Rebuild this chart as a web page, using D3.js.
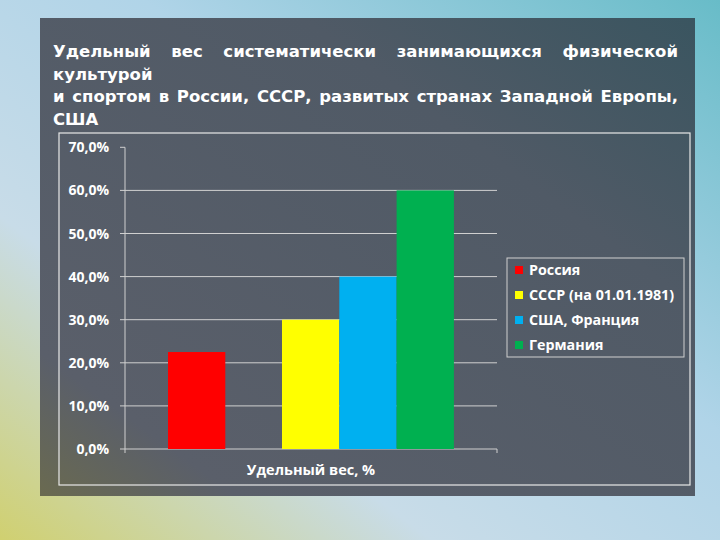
<!DOCTYPE html><html><head><meta charset="utf-8">
<script src="https://cdn.jsdelivr.net/npm/d3@7"></script>
<style>body{margin:0;}svg{display:block}</style></head><body>
<svg id="c" width="720" height="540"></svg>
<script>
const categories=["Россия","СССР (на 01.01.1981)","США, Франция","Германия"];
const values=[22.5,30,40,60];
const colors=["#ff0000","#ffff00","#00b0f0","#00b050"];
const yTicks=[0,10,20,30,40,50,60,70];
const titleLines=["Удельный вес систематически занимающихся физической","культурой","и спортом в России, СССР, развитых странах Западной Европы,","США"];
const xLabel="Удельный вес, %";

const svg=d3.select("#c");
const defs=svg.append("defs");
const bg=defs.append("linearGradient").attr("id","bg").attr("x1","0").attr("y1","1").attr("x2","1").attr("y2","0");
bg.append("stop").attr("offset","0").attr("stop-color","#d0d070");
bg.append("stop").attr("offset","0.3").attr("stop-color","#c8dce8");
bg.append("stop").attr("offset","0.6").attr("stop-color","#b0d4e8");
bg.append("stop").attr("offset","1").attr("stop-color","#68bcc8");
svg.append("rect").attr("width",720).attr("height",540).attr("fill","url(#bg)");
const pg=defs.append("linearGradient").attr("id","pg").attr("x1","0").attr("y1","1").attr("x2","1").attr("y2","0");
pg.append("stop").attr("offset","0").attr("stop-color","#6a6a50");
pg.append("stop").attr("offset","0.15").attr("stop-color","#5a5f6a");
pg.append("stop").attr("offset","0.7").attr("stop-color","#505a66");
pg.append("stop").attr("offset","1").attr("stop-color","#3a5560");
svg.append("rect").attr("x",40).attr("y",18).attr("width",655).attr("height",478).attr("fill","url(#pg)");

const tf="'DejaVu Sans',Verdana,sans-serif";
const L=53,R=678,fs=16.5;
function tt(s){return svg.append("text").attr("font-family",tf).attr("font-weight","bold").attr("font-size",fs).attr("fill","#fff").text(s);}
titleLines.forEach((t,i)=>{
  const yy=57+i*22.5;
  if(i===0||i===2){
    const words=t.split(" ");
    const ws=words.map(w=>{const e=tt(w);const l=e.node().getComputedTextLength();e.remove();return l;});
    const gap=(R-L-d3.sum(ws))/(words.length-1);
    let cx=L;
    words.forEach((w,k)=>{tt(w).attr("x",cx).attr("y",yy);cx+=ws[k]+gap;});
  } else tt(t).attr("x",L).attr("y",yy);
});

svg.append("rect").attr("x",59).attr("y",133).attr("width",631).attr("height",352)
  .attr("fill","none").attr("stroke","#e8e8e8").attr("stroke-width",1.2);

const x0=125,x1=497,yTop=147.3,yBot=449;
const y=d3.scaleLinear().domain([0,70]).range([yBot,yTop]);
const x=d3.scaleBand().domain([0,1]).range([x0,x1]);
const f="'Open Sans',sans-serif";
const g=svg.append("g");
yTicks.forEach(t=>{
  if(t>0&&t<70) g.append("line").attr("x1",x0).attr("x2",x1).attr("y1",y(t)).attr("y2",y(t)).attr("stroke","#d0d0d0").attr("stroke-width",1);
  g.append("line").attr("x1",x0-5).attr("x2",x0).attr("y1",y(t)).attr("y2",y(t)).attr("stroke","#d0d0d0");
  g.append("text").attr("x",x0-16).attr("y",y(t)+5).attr("text-anchor","end").attr("fill","#fff")
   .attr("font-family",f).attr("font-weight","bold").attr("font-size",14).text(t.toFixed(1).replace(".",",")+"%");
});
g.append("line").attr("x1",x0).attr("x2",x0).attr("y1",yTop).attr("y2",yBot+4).attr("stroke","#d0d0d0");
g.append("line").attr("x1",x0).attr("x2",x1).attr("y1",yBot).attr("y2",yBot).attr("stroke","#d0d0d0");
g.append("line").attr("x1",x1).attr("x2",x1).attr("y1",yBot).attr("y2",yBot+4).attr("stroke","#d0d0d0");
const bw=57.3;
const cs=x(1)-29;
const xs=[x(0)+43,cs,cs+bw,cs+2*bw];
values.forEach((v,i)=>{
  g.append("rect").attr("x",xs[i]).attr("y",y(v)).attr("width",bw).attr("height",yBot-y(v)).attr("fill",colors[i]);
});
svg.append("text").attr("x",311).attr("y",475).attr("text-anchor","middle").attr("fill","#fff")
  .attr("font-family",f).attr("font-weight","bold").attr("font-size",14.5).text(xLabel);

svg.append("rect").attr("x",507).attr("y",258).attr("width",177).attr("height",99).attr("fill","none").attr("stroke","#d0d0d0");
categories.forEach((c,i)=>{
  const yy=270+i*25;
  svg.append("rect").attr("x",515).attr("y",yy-4).attr("width",8).attr("height",8).attr("fill",colors[i]);
  svg.append("text").attr("x",529).attr("y",yy+5).attr("fill","#fff").attr("font-family",f)
    .attr("font-weight","bold").attr("font-size",14.3).text(c);
});
</script></body></html>
